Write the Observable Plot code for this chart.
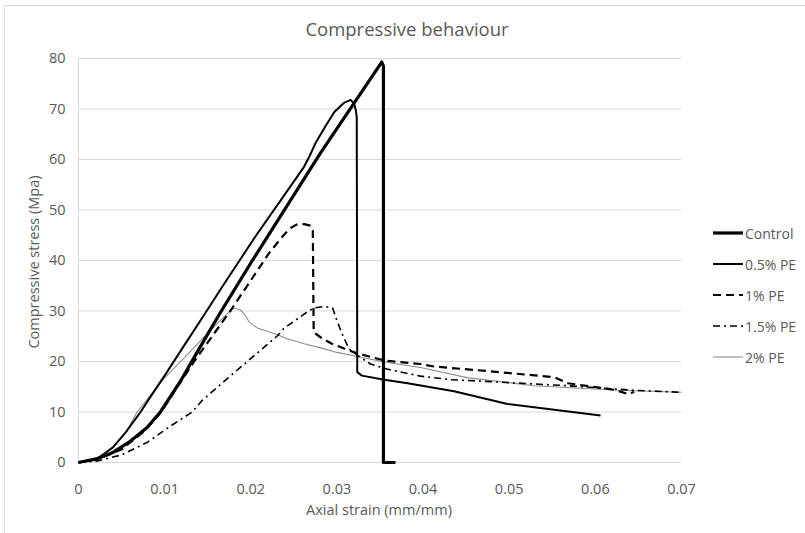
<!DOCTYPE html>
<html>
<head>
<meta charset="utf-8">
<script src="https://cdn.jsdelivr.net/npm/d3@7"></script>
<script src="https://cdn.jsdelivr.net/npm/@observablehq/plot@0.6"></script>
<style>
  html, body { margin: 0; padding: 0; background: #fff; }
  #chart { width: 805px; height: 533px; }
</style>
</head>
<body>
<div id="chart"></div>
<script>
// ---------- data ----------
const title = "Compressive behaviour";
const xLabel = "Axial strain (mm/mm)";
const yLabel = "Compressive stress (Mpa)";
const xTicks = [0, 0.01, 0.02, 0.03, 0.04, 0.05, 0.06, 0.07];
const xTickLabels = ["0", "0.01", "0.02", "0.03", "0.04", "0.05", "0.06", "0.07"];
const yTicks = [0, 10, 20, 30, 40, 50, 60, 70, 80];
const seriesNames = ["Control", "0.5% PE", "1% PE", "1.5% PE", "2% PE"];

const controlX = [0, 0.0022, 0.004, 0.006, 0.008, 0.0095, 0.0118, 0.0140, 0.0163, 0.0200, 0.0281, 0.0352, 0.0354, 0.0354, 0.0368];
const controlY = [0, 0.8, 2, 4.2, 7, 10, 16, 22.5, 29.2, 39.5, 61.3, 79.3, 78.5, 0, 0];

const pe05X = [0, 0.0022, 0.004, 0.0055, 0.0072, 0.0085, 0.0100, 0.0122, 0.0145, 0.0165, 0.0185, 0.0204, 0.0224, 0.0242, 0.0262, 0.0268, 0.0275, 0.0287, 0.0297, 0.0308, 0.0316, 0.0320, 0.0322, 0.0323, 0.03236, 0.0329, 0.0355, 0.0382, 0.0436, 0.0498, 0.0606];
const pe05Y = [0, 0.8, 3, 6, 10, 13.4, 17.2, 23, 29, 34.3, 39.5, 44.4, 49.3, 53.7, 58.6, 60.6, 63.2, 66.7, 69.4, 71.2, 71.8, 71, 69.7, 68.4, 17.9, 17.2, 16.4, 15.7, 14.1, 11.6, 9.3];

const pe1X = [0, 0.0022, 0.005, 0.0075, 0.0095, 0.0115, 0.0135, 0.0156, 0.0177, 0.0199, 0.0221, 0.0235, 0.0245, 0.0253, 0.0262, 0.0269, 0.0272, 0.0273, 0.0281, 0.0293, 0.0312, 0.0324, 0.0355, 0.0397, 0.0413, 0.0475, 0.0552, 0.0568, 0.0622, 0.0639, 0.0645];
const pe1Y = [0, 0.6, 2.6, 6, 9.8, 15, 20.2, 25.2, 30.2, 35.8, 41.4, 44.4, 46.3, 47.1, 47.2, 46.9, 45.9, 25.8, 24.8, 23.6, 22.3, 21.6, 20.2, 19.5, 19.0, 18.1, 16.9, 15.7, 14.4, 13.5, 14.0];

const pe15X = [0, 0.0022, 0.005, 0.008, 0.0105, 0.0132, 0.01436, 0.01727, 0.0196, 0.0231, 0.0238, 0.0262, 0.0273, 0.0285, 0.0295, 0.0300, 0.0306, 0.0314, 0.0324, 0.0339, 0.0358, 0.0397, 0.0432, 0.0490, 0.0568, 0.0645, 0.0700];
const pe15Y = [0, 0.3, 1.5, 4, 7, 10, 12.3, 16.6, 20, 25.1, 26.5, 29.4, 30.6, 30.9, 30.6, 28.1, 25.5, 22.5, 21.2, 19.5, 18.5, 17.1, 16.4, 15.9, 15.2, 14.3, 13.9];

const pe2X = [0, 0.0022, 0.004, 0.0055, 0.0068, 0.0099, 0.0130, 0.0155, 0.0180, 0.0188, 0.0194, 0.0198, 0.0207, 0.0231, 0.0242, 0.0262, 0.0281, 0.0300, 0.0324, 0.0355, 0.0397, 0.0451, 0.0529, 0.0626, 0.0700];
const pe2Y = [0, 0.8, 3, 6, 10, 16.6, 22, 26.5, 30.6, 30.2, 29.1, 27.8, 26.7, 25.3, 24.5, 23.5, 22.7, 21.8, 21.0, 19.9, 18.8, 16.8, 15.2, 14.3, 13.9];

// ---------- build ----------
const toRows = (xs, ys) => xs.map((x, i) => ({x, y: ys[i]}));
const styles = [
  {stroke: "#000", strokeWidth: 3.2, strokeDasharray: null},
  {stroke: "#000", strokeWidth: 2, strokeDasharray: null},
  {stroke: "#000", strokeWidth: 2.2, strokeDasharray: "8,5"},
  {stroke: "#000", strokeWidth: 1.6, strokeDasharray: "7,4,2,4"},
  {stroke: "#8c8c8c", strokeWidth: 1.1, strokeDasharray: null}
];
const series = [
  toRows(controlX, controlY),
  toRows(pe05X, pe05Y),
  toRows(pe1X, pe1Y),
  toRows(pe15X, pe15Y),
  toRows(pe2X, pe2Y)
];

const W = 805, H = 533;
const mL = 78, mR = 124, mT = 58, mB = 71;
const font = "'Open Sans', sans-serif";
const textColor = "#595959";

const lineMarks = series.map((rows, i) => Plot.line(rows, {
  x: "x", y: "y",
  stroke: styles[i].stroke,
  strokeWidth: styles[i].strokeWidth,
  strokeDasharray: styles[i].strokeDasharray,
  strokeLinejoin: "round",
  strokeLinecap: "butt"
}));

const chart = Plot.plot({
  width: W, height: H,
  marginLeft: mL, marginRight: mR, marginTop: mT, marginBottom: mB,
  style: {fontFamily: font, fontSize: "14.5px", color: textColor, background: "#fff"},
  x: {domain: [0, 0.07]},
  y: {domain: [0, 80]},
  marks: [
    Plot.ruleY(yTicks, {stroke: "#d9d9d9", strokeWidth: 1}),
    Plot.ruleX([0], {stroke: "#d9d9d9", strokeWidth: 1}),
    Plot.axisX({ticks: xTicks, tickFormat: (d) => xTickLabels[xTicks.indexOf(d)], tickSize: 0, tickPadding: 21, label: null, fill: textColor}),
    Plot.axisY({ticks: yTicks, tickSize: 0, tickPadding: 13, label: null, fill: textColor}),
    ...lineMarks.slice().reverse()
  ]
});

document.getElementById("chart").appendChild(chart);

// ---------- decorations: frame, title, axis titles, legend ----------
const svg = d3.select(chart);
svg.append("path").attr("d", `M4.5,${H} V5.5 H${W}`).attr("fill", "none").attr("stroke", "#d9d9d9");

svg.append("text").text(title)
  .attr("x", 407).attr("y", 28).attr("text-anchor", "middle").attr("dominant-baseline", "central")
  .attr("font-family", font).attr("font-size", 18.5).attr("fill", textColor);

svg.append("text").text(xLabel)
  .attr("x", 379).attr("y", 509).attr("text-anchor", "middle").attr("dominant-baseline", "central")
  .attr("font-family", font).attr("font-size", 14.5).attr("fill", textColor);

svg.append("text").text(yLabel)
  .attr("transform", "translate(33,262) rotate(-90)").attr("text-anchor", "middle").attr("dominant-baseline", "central")
  .attr("font-family", font).attr("font-size", 14.5).attr("fill", textColor);

const leg = svg.append("g");
seriesNames.forEach((name, i) => {
  const yy = 233 + i * 31;
  const s = styles[i];
  leg.append("line").attr("x1", 713).attr("x2", 743).attr("y1", yy).attr("y2", yy)
    .attr("stroke", s.stroke).attr("stroke-width", s.strokeWidth)
    .attr("stroke-dasharray", s.strokeDasharray);
  leg.append("text").text(name).attr("x", 745).attr("y", yy).attr("text-anchor", "start")
    .attr("dominant-baseline", "central").attr("font-family", font).attr("font-size", 14).attr("fill", textColor);
});
</script>
</body>
</html>
